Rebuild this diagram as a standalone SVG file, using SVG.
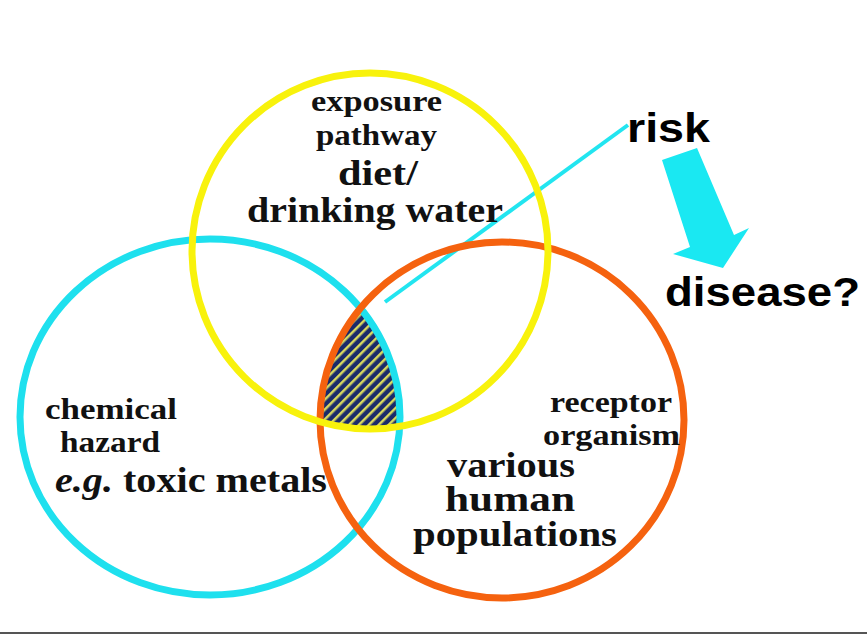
<svg xmlns="http://www.w3.org/2000/svg" width="867" height="634" viewBox="0 0 867 634">
<style>
.c{fill:none;stroke-width:7}
.t{font-family:"Liberation Serif",serif;font-weight:bold;fill:#111}
.s{font-family:"Liberation Sans",sans-serif;font-weight:bold;fill:#000}
</style>
<defs>
<pattern id="h" width="7" height="7" patternUnits="userSpaceOnUse" patternTransform="rotate(-45)">
<rect width="7" height="7" fill="#1a2a6a"/>
<rect width="7" height="2.5" fill="#d8d860"/>
</pattern>
<clipPath id="c1"><ellipse cx="210" cy="417" rx="192" ry="180"/></clipPath>
<clipPath id="c2"><ellipse cx="502" cy="420" rx="184" ry="180"/></clipPath>
</defs>
<rect width="867" height="634" fill="#fff"/>
<g id="intersection" clip-path="url(#c1)"><g clip-path="url(#c2)"><circle cx="370" cy="251" r="180" fill="url(#h)"/></g></g>
<g id="connectors">
<line x1="385" y1="302" x2="628" y2="125" stroke="#22e5f0" stroke-width="4"/>
<polygon points="662,160 697,148 734,235 749,228 723,268 673,254 690,247" fill="#1ae8f2"/>
</g>
<g id="hazard"><ellipse class="c" cx="210" cy="417" rx="190" ry="178" stroke="#1ee0ee"/>
<text class="t" x="45" y="419" font-size="29" textLength="132" lengthAdjust="spacingAndGlyphs">chemical</text>
<text class="t" x="60" y="452" font-size="29" textLength="100" lengthAdjust="spacingAndGlyphs">hazard</text>
<text class="t" x="55" y="492" font-size="36" textLength="272" lengthAdjust="spacingAndGlyphs"><tspan font-style="italic">e.g.</tspan> toxic metals</text></g>
<g id="receptor"><ellipse class="c" cx="502" cy="420" rx="182" ry="178" stroke="#f5620f"/>
<text class="t" x="550" y="412" font-size="29" textLength="122" lengthAdjust="spacingAndGlyphs">receptor</text>
<text class="t" x="543" y="445" font-size="29" textLength="137" lengthAdjust="spacingAndGlyphs">organism</text>
<text class="t" x="447" y="477" font-size="36" textLength="128" lengthAdjust="spacingAndGlyphs">various</text>
<text class="t" x="445" y="511" font-size="36" textLength="130" lengthAdjust="spacingAndGlyphs">human</text>
<text class="t" x="413" y="546" font-size="36" textLength="204" lengthAdjust="spacingAndGlyphs">populations</text></g>
<g id="exposure"><circle class="c" cx="370" cy="251" r="178" stroke="#f8f20c"/>
<text class="t" x="311" y="111" font-size="29" textLength="131" lengthAdjust="spacingAndGlyphs">exposure</text>
<text class="t" x="316" y="145" font-size="29" textLength="121" lengthAdjust="spacingAndGlyphs">pathway</text>
<text class="t" x="338" y="185" font-size="36" textLength="80" lengthAdjust="spacingAndGlyphs">diet/</text>
<text class="t" x="247" y="222" font-size="36" textLength="256" lengthAdjust="spacingAndGlyphs">drinking water</text></g>
<g id="risk"><text class="s" x="627" y="142" font-size="40" textLength="83" lengthAdjust="spacingAndGlyphs">risk</text></g>
<g id="disease"><text class="s" x="665" y="306" font-size="40" textLength="195" lengthAdjust="spacingAndGlyphs">disease?</text></g>
<rect y="632" width="867" height="2" fill="#555"/>
</svg>
